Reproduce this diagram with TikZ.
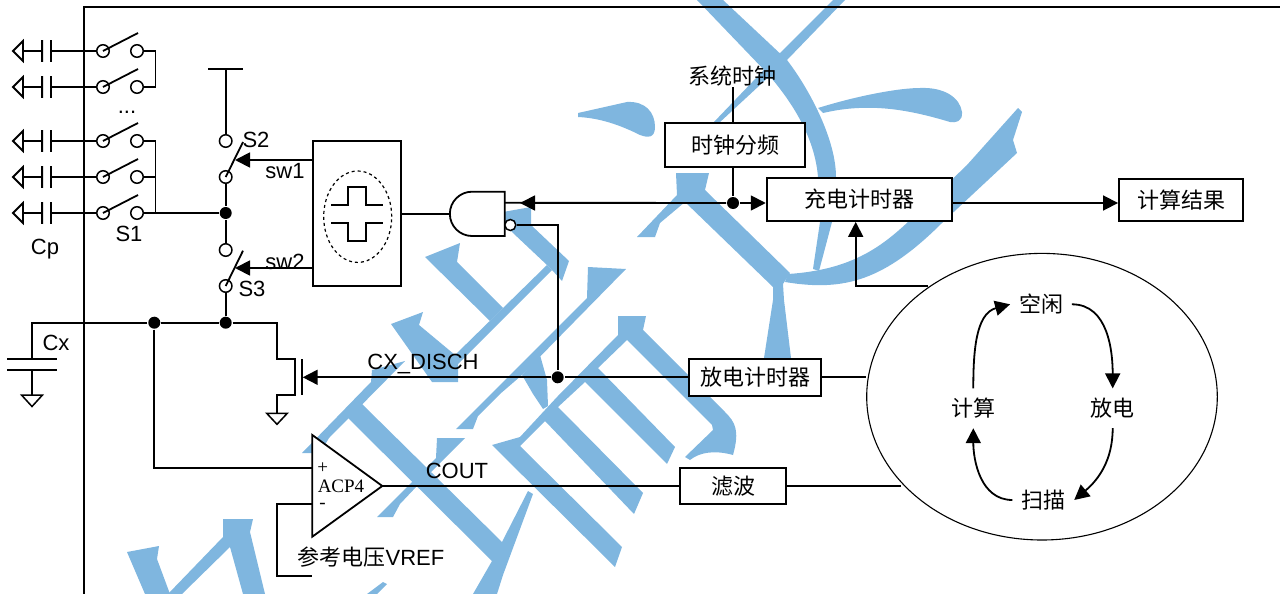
\documentclass[tikz,border=0pt]{standalone}
\usepackage{fontspec}
\setmainfont{Liberation Sans}
\newfontfamily\cjk{Noto Sans CJK SC}
\newfontfamily\acpfont{Liberation Serif}
\usetikzlibrary{arrows.meta,shapes.geometric}
\definecolor{wmblue}{HTML}{7FB6DF}
\begin{document}
\begin{tikzpicture}[x=1pt,y=-1pt,line width=1.8pt,font=\fontsize{22}{24}\selectfont,>={Triangle[length=15pt,width=15pt]}]
	\tikzstyle{wm}=[fill=wmblue,draw=none]
	\tikzstyle{contact}=[circle,draw,fill=white,line width=1.5pt,minimum size=12.5pt,inner sep=0pt]
	\tikzstyle{dot}=[circle,fill=black,minimum size=12pt,inner sep=0pt]
	\tikzstyle{capsym}=[minimum width=7pt,minimum height=20pt,inner sep=0pt]
	\tikzstyle{block}=[rectangle,draw,fill=white,line width=1.9pt,inner sep=0pt]
	\tikzstyle{state}=[minimum width=60pt,minimum height=38pt,inner sep=0pt]
	\useasboundingbox (0,0) rectangle (1280,594);
	% watermark
	\fill[wm] (697,0) -- (723,0) -- (787,60) .. controls (810,90) and (836,140) .. (836,177) -- (818,177) .. controls (815,140) and (795,105) .. (767,73) -- cycle;
	\fill[wm] (820,200) -- (833,200) -- (832,222) -- (819,271) -- (813,269) -- (820,222) -- cycle;
	\fill[wm] (845,0) -- (787,60) -- (719,123) -- (713,123) -- (780,53) -- (833,0) -- cycle;
	\fill[wm] (578,113) -- (627,102) .. controls (645,101) and (655,112) .. (655,127) .. controls (655,138) and (648,138) .. (640,135) .. controls (620,125) and (600,118) .. (578,117) -- cycle;
	\fill[wm] (818,108) .. controls (860,95) and (900,88) .. (920,88) .. controls (945,87) and (960,98) .. (962,112) .. controls (963,122) and (955,123) .. (950,122) .. controls (910,110) and (870,102) .. (823,113) -- cycle;
	\fill[wm] (1018,108) -- (967,165) -- (908,222) .. controls (880,248) and (850,270) .. (788,274) -- (785,282) .. controls (845,292) and (885,280) .. (943,222) -- (1017,153) -- (1013,140) -- (1022,112) -- cycle;
	\fill[wm] (676,173) -- (709,173) -- (705,190) -- (790,273) -- (783,284) -- (784,300) -- (791,358) -- (764,358) -- (773,300) -- (773,287) -- (685,202) -- (660,223) -- (655,237) -- (637,237) -- (677,195) -- cycle;
	\fill[wm] (503,212) -- (531,207) -- (531,225) -- (569,261) -- (562,281) -- (552,270) -- (547,265) -- (513,233) -- (503,222) -- cycle;
	\fill[wm] (425,257) -- (460,243) -- (457,262) -- (503,308) -- (490,321) -- cycle;
	\fill[wm] (391,324) -- (423,312) -- (419,325) -- (455,355) -- (547,265) -- (552,270) -- (458,364) -- (458,382) -- (432,382) -- cycle;
	\fill[wm] (588,267) -- (626,269) -- (522,375) -- (500,394) -- (478,416) -- (473,429) -- (456,429) -- (485,400) -- (587,298) -- cycle;
	\fill[wm] (540,355) -- (547,380) -- (548,406) -- (543,409) -- (533,394) -- (522,375) -- cycle;
	\fill[wm] (618,316) -- (646,316) -- (643,330) -- (725,412) .. controls (735,422) and (740,430) .. (733,455) .. controls (715,450) and (700,452) .. (690,460) -- (685,457) -- (713,430) -- (712,425) -- (627,340) -- (598,368) -- (675,447) -- (667,464) -- (585,382) -- (558,407) -- (643,493) -- (634,514) -- (545,421) -- (520,446) -- (622,547) -- (615,567) -- (492,445) -- (520,437) -- (557,397) -- (618,335) -- cycle;
	\fill[wm] (362,404) -- (502,542) -- (528,491) -- (533,494) -- (503,575) -- (497,594) -- (473,594) -- (492,561) -- (347,417) -- cycle;
	\fill[wm] (405,361) -- (372,370) -- (371,382) -- (302,453) -- (320,453) -- (329,438) -- cycle;
	\fill[wm] (437,438) -- (465,438) -- (417,486) -- (400,504) -- (393,517) -- (377,517) -- (436,458) -- cycle;
	\fill[wm] (387,584) -- (383,582) -- (367,594) -- (377,594) -- cycle;
	\fill[wm] (127,552) -- (159,546) -- (157,559) -- (170,594) -- (145,594) -- cycle;
	\fill[wm] (223,519) -- (253,519) -- (250,532) -- (265,594) -- (243,594) -- (230,547) -- (182,594) -- (168,594) -- (223,537) -- cycle;
	% frame
	\coordinate (fr_a) at (84,594);
	\coordinate (fr_b) at (84,7);
	\coordinate (fr_c) at (1280,7);
	\draw[line width=1.5pt] (fr_a) -- (fr_b) -- (fr_c);
	% sensing pads and S1
	\coordinate (t_1) at (23,51);
	\coordinate (t_2) at (23,87);
	\coordinate (t_3) at (23,141);
	\coordinate (t_4) at (23,177);
	\coordinate (t_5) at (23,213);
	\node[capsym] (c_1) at (46.5,51) {};
	\node[capsym] (c_2) at (46.5,87) {};
	\node[capsym] (c_3) at (46.5,141) {};
	\node[capsym] (c_4) at (46.5,177) {};
	\node[capsym] (c_5) at (46.5,213) {};
	\node[contact] (l_1) at (103,51) {};
	\node[contact] (l_2) at (103,87) {};
	\node[contact] (l_3) at (103,141) {};
	\node[contact] (l_4) at (103,177) {};
	\node[contact] (l_5) at (103,213) {};
	\node[contact] (r_1) at (137,51) {};
	\node[contact] (r_2) at (137,87) {};
	\node[contact] (r_3) at (137,141) {};
	\node[contact] (r_4) at (137,177) {};
	\node[contact] (r_5) at (137,213) {};
	\draw (t_1) -- (c_1) (c_1) -- (l_1) (l_1.center) -- ++(35,-18) (t_1) ++(0,-10) -- ++(-10,10) -- ++(10,10) -- cycle (c_1.north west) -- (c_1.south west) (c_1.north east) -- (c_1.south east);
	\draw (t_2) -- (c_2) (c_2) -- (l_2) (l_2.center) -- ++(35,-18) (t_2) ++(0,-10) -- ++(-10,10) -- ++(10,10) -- cycle (c_2.north west) -- (c_2.south west) (c_2.north east) -- (c_2.south east);
	\draw (t_3) -- (c_3) (c_3) -- (l_3) (l_3.center) -- ++(35,-18) (t_3) ++(0,-10) -- ++(-10,10) -- ++(10,10) -- cycle (c_3.north west) -- (c_3.south west) (c_3.north east) -- (c_3.south east);
	\draw (t_4) -- (c_4) (c_4) -- (l_4) (l_4.center) -- ++(35,-18) (t_4) ++(0,-10) -- ++(-10,10) -- ++(10,10) -- cycle (c_4.north west) -- (c_4.south west) (c_4.north east) -- (c_4.south east);
	\draw (t_5) -- (c_5) (c_5) -- (l_5) (l_5.center) -- ++(35,-18) (t_5) ++(0,-10) -- ++(-10,10) -- ++(10,10) -- cycle (c_5.north west) -- (c_5.south west) (c_5.north east) -- (c_5.south east);
	\coordinate (bus_1) at (155.5,51);
	\coordinate (bus_2) at (155.5,87);
	\coordinate (bus_3) at (155.5,141);
	\coordinate (bus_4) at (155.5,177);
	\coordinate (bus_5) at (155.5,213);
	\draw (r_1) -- (bus_1) -- (bus_2) -- (r_2);
	\draw (r_3) -- (bus_3) -- (bus_5) (r_4) -- (bus_4);
	\node (lbl_dots) at (127,112) {...};
	\node (lbl_s1) at (129,234) {S1};
	\node (lbl_cp) at (45,249) {Cp};
	% S2 and S3
	\node[dot] (dot_mid) at (225.7,213) {};
	\node[contact] (s2_a) at (225.7,141) {};
	\node[contact] (s2_b) at (225.7,177) {};
	\node[contact] (s3_a) at (225.7,250) {};
	\node[contact] (s3_b) at (225.7,286) {};
	\node[dot] (dot_s3) at (225.7,322.7) {};
	\coordinate (vdd) at (225.7,69);
	\coordinate (vdd_l) at (208,69);
	\coordinate (vdd_r) at (243,69);
	\draw (vdd_l) -- (vdd_r) (vdd) -- (s2_a);
	\draw (s2_b.center) -- ++(17.3,-35) (s3_b.center) -- ++(17.3,-35.3);
	\draw (s2_b) -- (dot_mid) -- (s3_a) (s3_b) -- (dot_s3) (r_5) -- (dot_mid);
	\node (lbl_s2) at (256,140) {S2};
	\node (lbl_s3) at (252,289) {S3};
	% control block
	\node[block,minimum width=88pt,minimum height=145pt] (ctrl) at (357,213.5) {};
	\node[ellipse,draw,dashed,line width=1.2pt,minimum width=68pt,minimum height=91.4pt,inner sep=0pt] (ring) at (357.7,216.7) {};
	\coordinate (p_a) at (331,205);
	\coordinate (p_b) at (383,205);
	\coordinate (p_c) at (331,222.7);
	\coordinate (p_d) at (383,222.7);
	\draw (p_a) -- ++(17.3,0) -- ++(0,-18.3) -- ++(17.4,0) -- ++(0,18.3) -- (p_b);
	\draw (p_c) -- ++(17.3,0) -- ++(0,18.3) -- ++(17.4,0) -- ++(0,-18.3) -- (p_d);
	\coordinate (sw1_tip) at (235,160);
	\coordinate (sw2_tip) at (235,268);
	\draw[->] (ctrl.west |- sw1_tip) -- (sw1_tip);
	\draw[->] (ctrl.west |- sw2_tip) -- (sw2_tip);
	\node (lbl_sw1) at (285,171) {sw1};
	\node (lbl_sw2) at (285,262) {sw2};
	% gate
	\coordinate (gate_in) at (450,213.7);
	\coordinate (gate_top) at (504.7,202.7);
	\draw (ctrl.east |- gate_in) -- (gate_in);
	\draw[fill=white] (504.7,191.7) -- (472,191.7) arc (270:90:22.15) -- (504.7,236) -- cycle;
	\node[contact,minimum size=11pt] (bubble) at (510.3,225) {};
	% timers
	\node[block,minimum width=140pt,minimum height=43.4pt,font=\fontsize{22}{24}\cjk] (clk_div) at (735,145) {时钟分频};
	\node[block,minimum width=185.6pt,minimum height=43.3pt,font=\fontsize{22}{24}\cjk] (chg_timer) at (859.5,199.3) {充电计时器};
	\node[block,minimum width=124pt,minimum height=42pt,font=\fontsize{22}{24}\cjk] (result) at (1181,200) {计算结果};
	\node[block,minimum width=131.7pt,minimum height=36.7pt,font=\fontsize{22}{24}\cjk] (dis_timer) at (755,377.3) {放电计时器};
	\node[block,minimum width=106pt,minimum height=36pt,font=\fontsize{22}{24}\cjk] (filter) at (733,486) {滤波};
	\node[font=\fontsize{22}{24}\cjk,inner sep=0pt] (sys_clk) at (732,76) {系统时钟};
	\node[dot] (dot_clk) at (733,203) {};
	\node[dot] (dot_dis) at (557.7,377.3) {};
	\coordinate (clk_top) at (733,87.3);
	\coordinate (gate_tip) at (520,203);
	\draw (clk_top) -- (clk_top |- clk_div.north) (clk_top |- clk_div.south) -- (dot_clk);
	\draw (gate_top) -- (dot_clk);
	\draw[->] (dot_clk) -- (gate_tip);
	\draw[->] (dot_clk) -- (chg_timer.west |- dot_clk);
	\draw[->] (chg_timer.east |- dot_clk) -- (result.west |- dot_clk);
	\coordinate (bub_turn) at (557.7,225);
	\draw (bubble) -- (bub_turn) -- (dot_dis);
	% discharge MOS
	\coordinate (mos_d) at (277,322.7);
	\coordinate (mos_e) at (277,359);
	\coordinate (mos_f) at (295.3,359);
	\coordinate (mos_g) at (295.3,395);
	\coordinate (mos_h) at (277,395);
	\coordinate (mos_gnd) at (277,413.3);
	\coordinate (mos_tip) at (302.7,377.3);
	\coordinate (mos_pl) at (301.7,359);
	\coordinate (mos_pm) at (301.7,395);
	\draw (dot_s3) -- (mos_d) -- (mos_e) -- (mos_f) -- (mos_g) -- (mos_h) -- (mos_gnd);
	\draw (mos_pl) -- (mos_pm);
	\draw[line width=1.5pt] (mos_gnd) ++(-10.3,0) -- ++(20.6,0) -- ++(-10.3,11) -- cycle;
	\draw[->] (dot_dis) -- (mos_tip);
	\draw (dis_timer.west |- dot_dis) -- (dot_dis);
	\node (lbl_disch) at (423,364) {CX\_DISCH};
	% Cx
	\node[dot] (dot_cx) at (154.3,322.7) {};
	\coordinate (cx_a) at (32,322.7);
	\coordinate (cx_b) at (32,359);
	\coordinate (cx_c) at (32,370);
	\coordinate (cx_d) at (32,395);
	\coordinate (cx_pa) at (7.3,359);
	\coordinate (cx_pb) at (56.7,359);
	\coordinate (cx_pc) at (7.3,370);
	\coordinate (cx_pd) at (56.7,370);
	\draw (dot_s3) -- (dot_cx) -- (cx_a) -- (cx_b) (cx_pa) -- (cx_pb) (cx_pc) -- (cx_pd) (cx_c) -- (cx_d);
	\draw[line width=1.5pt] (cx_d) ++(-10.5,0) -- ++(21,0) -- ++(-10.5,11.5) -- cycle;
	\node (lbl_cx) at (56,343) {Cx};
	% comparator
	\coordinate (acp_p) at (312.3,467.7);
	\coordinate (acp_m) at (312.3,503.7);
	\coordinate (acp_o) at (382.3,486);
	\coordinate (acp_a) at (154.3,467.7);
	\coordinate (ref_a) at (277,503.7);
	\coordinate (ref_b) at (277,576);
	\coordinate (ref_c) at (312.3,576);
	\draw (dot_cx) -- (acp_a) -- (acp_p);
	\draw (acp_m) -- (ref_a) -- (ref_b) -- (ref_c);
	\draw[fill=white] (312.3,435) -- (acp_o) -- (312.3,536.7) -- cycle;
	\node[font=\fontsize{19}{22}\acpfont,inner sep=0pt] (lbl_acp) at (341,486) {ACP4};
	\node[font=\fontsize{19}{22}\acpfont,inner sep=0pt] (lbl_plus) at (322.7,468) {+};
	\node[font=\fontsize{19}{22}\acpfont,inner sep=0pt] (lbl_minus) at (322.5,506) {-};
	\draw (acp_o) -- (filter.west |- acp_o);
	\node (lbl_cout) at (457,471) {COUT};
	\node (lbl_vref) at (371,557) {{\cjk 参考电压}VREF};
	% state machine
	\node[ellipse,draw,fill=white,line width=1.1pt,minimum width=350.6pt,minimum height=286.6pt,inner sep=0pt] (fsm) at (1042,396.7) {};
	\draw (dis_timer.east |- dot_dis) -- (fsm.west |- dot_dis);
	\coordinate (fsm_low) at (901,486);
	\draw (filter.east |- fsm_low) -- (fsm_low);
	\coordinate (fsm_up) at (928,286);
	\coordinate (chg_turn) at (855.7,286);
	\draw[->] (fsm_up) -- (chg_turn) -- (chg_turn |- chg_timer.south);
	\node[state,font=\fontsize{22}{24}\cjk] (st_idle) at (1041,304.3) {空闲};
	\node[state,font=\fontsize{22}{24}\cjk] (st_dis) at (1112.7,408.3) {放电};
	\node[state,font=\fontsize{22}{24}\cjk] (st_scan) at (1043.3,500) {扫描};
	\node[state,font=\fontsize{22}{24}\cjk] (st_calc) at (973.3,408.3) {计算};
	\draw[->] (st_idle.east) to[out=0,in=90] (st_dis.north);
	\draw[->] (st_dis.south) to[out=-90,in=40] (st_scan.east);
	\draw[->] (st_scan.west) to[out=180,in=-90] (st_calc.south);
	\draw[->] (st_calc.north) to[out=90,in=195] (st_idle.west);
\end{tikzpicture}
\end{document}
